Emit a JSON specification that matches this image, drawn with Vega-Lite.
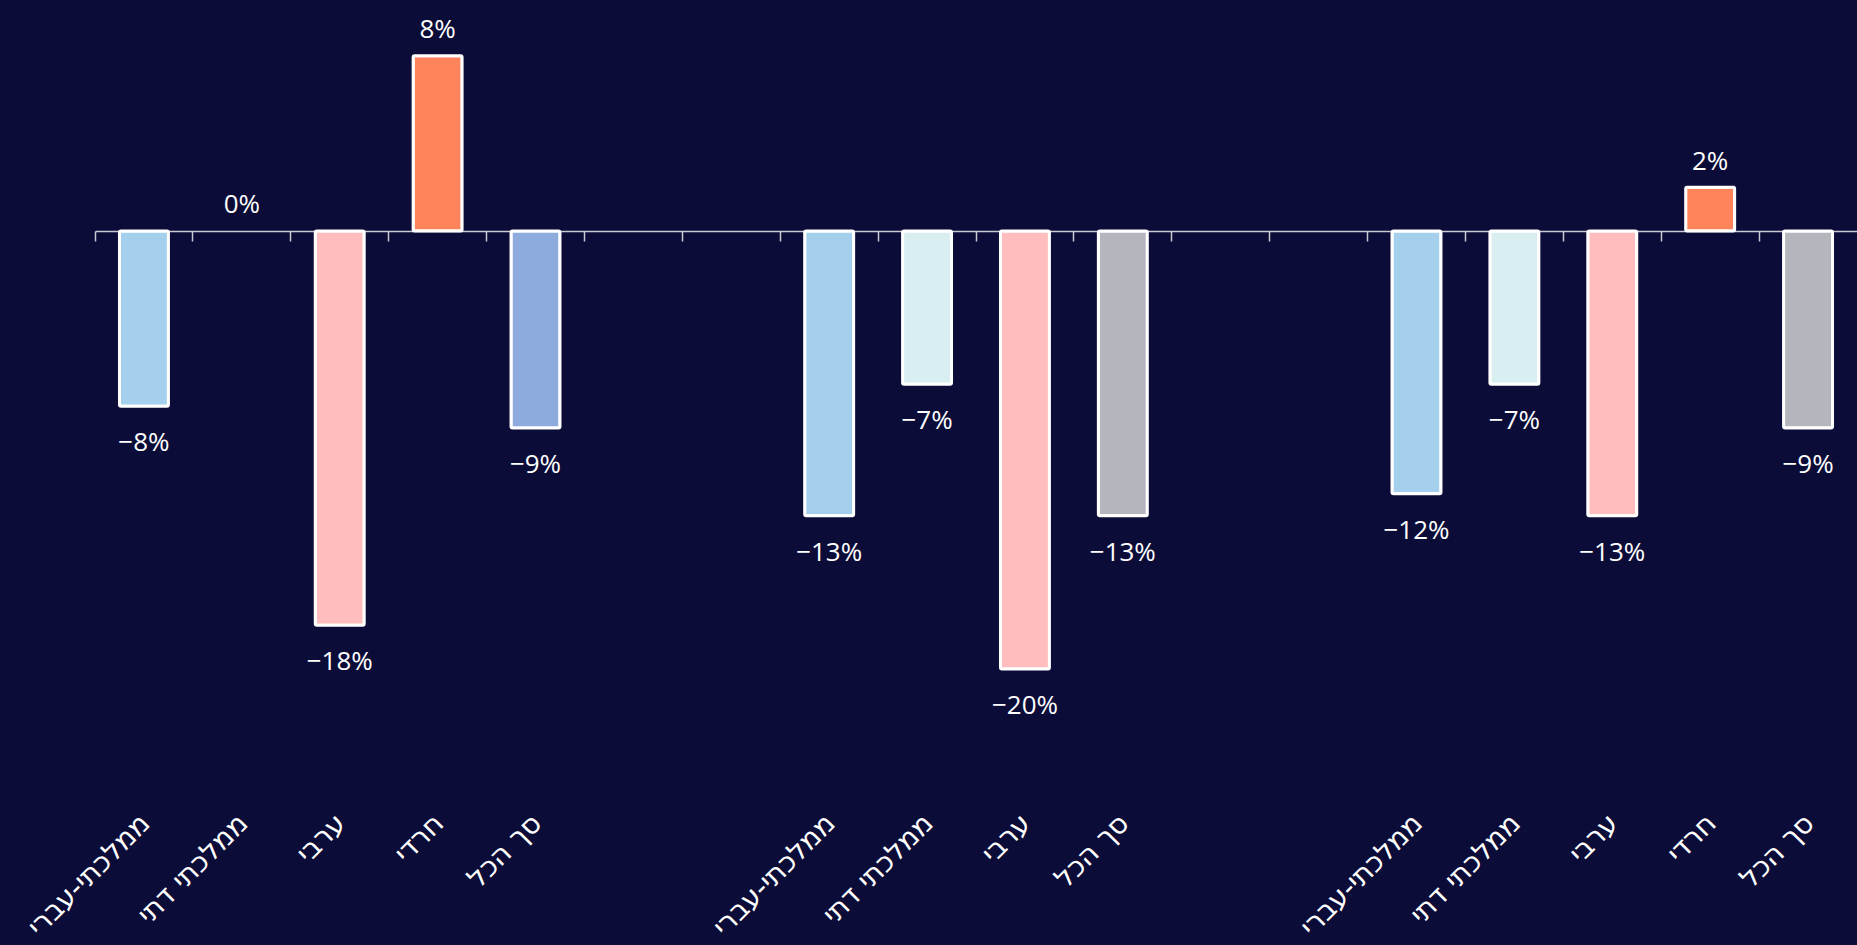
{
  "$schema": "https://vega.github.io/schema/vega-lite/v6.json",
  "width": 1762,
  "height": 788.4,
  "autosize": "none",
  "padding": {"left": 95, "top": 12, "right": 0, "bottom": 145},
  "background": "#0b0c37",
  "config": {"view": {"stroke": null}, "font": "Open Sans, DejaVu Sans"},
  "data": {
    "values": [
      {"slot": "ממלכתי-עברי|1", "category": "ממלכתי-עברי", "group": 1, "value": -0.08},
      {"slot": "ממלכתי דתי|1", "category": "ממלכתי דתי", "group": 1, "value": 0},
      {"slot": "ערבי|1", "category": "ערבי", "group": 1, "value": -0.18},
      {"slot": "חרדי|1", "category": "חרדי", "group": 1, "value": 0.08},
      {"slot": "סך הכל|1", "category": "סך הכל", "group": 1, "value": -0.09},
      {"slot": "ממלכתי-עברי|2", "category": "ממלכתי-עברי", "group": 2, "value": -0.13},
      {"slot": "ממלכתי דתי|2", "category": "ממלכתי דתי", "group": 2, "value": -0.07},
      {"slot": "ערבי|2", "category": "ערבי", "group": 2, "value": -0.20},
      {"slot": "סך הכל|2", "category": "סך הכל", "group": 2, "value": -0.13},
      {"slot": "ממלכתי-עברי|3", "category": "ממלכתי-עברי", "group": 3, "value": -0.12},
      {"slot": "ממלכתי דתי|3", "category": "ממלכתי דתי", "group": 3, "value": -0.07},
      {"slot": "ערבי|3", "category": "ערבי", "group": 3, "value": -0.13},
      {"slot": "חרדי|3", "category": "חרדי", "group": 3, "value": 0.02},
      {"slot": "סך הכל|3", "category": "סך הכל", "group": 3, "value": -0.09}
    ]
  },
  "encoding": {
    "x": {
      "field": "slot",
      "type": "nominal",
      "sort": null,
      "scale": {
        "domain": ["ממלכתי-עברי|1", "ממלכתי דתי|1", "ערבי|1", "חרדי|1", "סך הכל|1", "|a", "|b",
                   "ממלכתי-עברי|2", "ממלכתי דתי|2", "ערבי|2", "סך הכל|2", "|c", "|d",
                   "ממלכתי-עברי|3", "ממלכתי דתי|3", "ערבי|3", "חרדי|3", "סך הכל|3"],
        "paddingInner": 0,
        "paddingOuter": 0
      },
      "axis": {
        "orient": "bottom",
        "offset": -569.4,
        "bandPosition": 0,
        "title": null,
        "domainColor": "#c9cad3",
        "domainWidth": 1.5,
        "tickColor": "#c9cad3",
        "tickWidth": 1.5,
        "tickSize": 10,
        "labelAngle": -45,
        "labelAlign": "right",
        "labelBaseline": "top",
        "labelPadding": 568,
        "labelOffset": -8,
        "labelColor": "white",
        "labelFont": "DejaVu Sans",
        "labelFontSize": 28,
        "labelOverlap": false,
        "labelBound": false,
        "labelFlush": false,
        "labelExpr": "split(datum.value, '|')[0]"
      }
    },
    "y": {
      "field": "value",
      "type": "quantitative",
      "scale": {"domain": [-0.26, 0.10], "nice": false, "zero": true},
      "axis": null
    }
  },
  "layer": [
    {
      "transform": [{"filter": "datum.value != 0"}],
      "mark": {"type": "bar", "width": {"band": 0.5}, "stroke": "white", "strokeWidth": 3, "cornerRadius": 1.5},
      "encoding": {
        "color": {
          "condition": {"test": "datum.group == 1 && datum.category == 'סך הכל'", "value": "#8eabde"},
          "field": "category",
          "type": "nominal",
          "scale": {
            "domain": ["ממלכתי-עברי", "ממלכתי דתי", "ערבי", "חרדי", "סך הכל"],
            "range": ["#a4d0ee", "#d8eef0", "#ffbebd", "#ff845c", "#b4b5bd"]
          },
          "legend": null
        }
      }
    },
    {
      "transform": [{"filter": "datum.value >= 0"}],
      "mark": {"type": "text", "baseline": "alphabetic", "dy": -17.5, "fontSize": 26, "color": "white"},
      "encoding": {"text": {"field": "value", "format": ".0%"}}
    },
    {
      "transform": [{"filter": "datum.value < 0"}],
      "mark": {"type": "text", "baseline": "alphabetic", "dy": 45, "fontSize": 26, "color": "white"},
      "encoding": {"text": {"field": "value", "format": ".0%"}}
    }
  ]
}
